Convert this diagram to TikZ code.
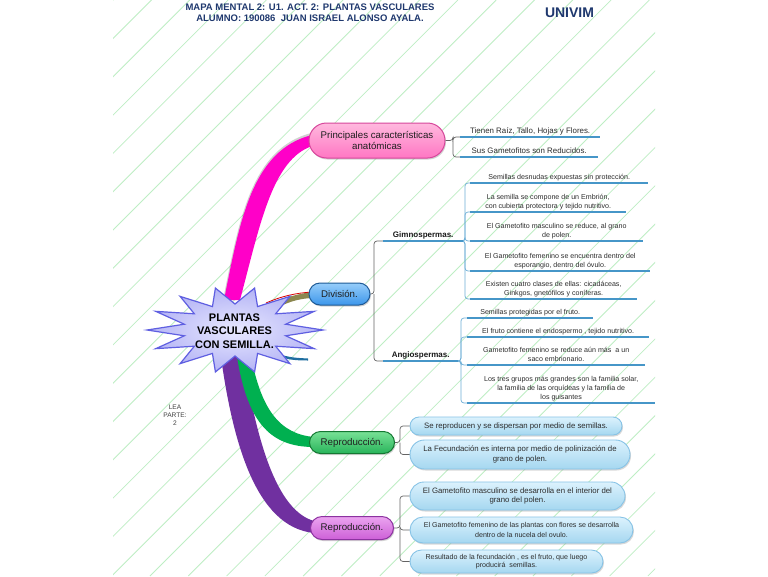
\documentclass[tikz,border=0pt]{standalone}
\usepackage{fontspec}
\setmainfont{Liberation Sans}
\usetikzlibrary{shapes.misc,shadows,calc}
\definecolor{navy}{RGB}{31,56,110}
\definecolor{bgl}{RGB}{190,238,196}
\definecolor{ulc}{RGB}{70,150,200}
\definecolor{brkc}{RGB}{100,100,100}
\definecolor{brkb}{RGB}{110,175,215}
\definecolor{txt}{RGB}{45,45,45}
\definecolor{pinkL}{RGB}{255,185,222}
\definecolor{pinkD}{RGB}{255,118,195}
\definecolor{pinkB}{RGB}{215,70,155}
\definecolor{blueL}{RGB}{150,205,250}
\definecolor{blueD}{RGB}{60,150,235}
\definecolor{blueB}{RGB}{30,90,150}
\definecolor{greenL}{RGB}{120,225,150}
\definecolor{greenD}{RGB}{40,180,90}
\definecolor{greenB}{RGB}{20,120,50}
\definecolor{purL}{RGB}{235,165,240}
\definecolor{purD}{RGB}{205,95,215}
\definecolor{purB}{RGB}{140,50,160}
\definecolor{lbL}{RGB}{220,242,253}
\definecolor{lbD}{RGB}{165,215,240}
\definecolor{lbB}{RGB}{135,195,230}
\definecolor{pinkbr}{RGB}{255,0,200}
\definecolor{greenbr}{RGB}{0,176,80}
\definecolor{purbr}{RGB}{112,48,160}
\definecolor{olivebr}{RGB}{140,135,80}
\definecolor{tealbr}{RGB}{30,110,160}
\definecolor{starL}{RGB}{232,232,255}
\definecolor{starD}{RGB}{180,180,245}
\definecolor{starB}{RGB}{95,95,225}
\tikzset{
  mainpill/.style={rounded rectangle, draw, line width=1pt, inner sep=0pt, align=center,
    font=\fontsize{9.7}{11}\selectfont, text=black!88,
    drop shadow={shadow xshift=1pt, shadow yshift=-1.5pt, opacity=0.35}},
  pinkpill/.style={top color=pinkL, bottom color=pinkD, draw=pinkB},
  bluepill/.style={top color=blueL, bottom color=blueD, draw=blueB},
  greenpill/.style={top color=greenL, bottom color=greenD, draw=greenB},
  purpill/.style={top color=purL, bottom color=purD, draw=purB},
  lbpill/.style={rounded rectangle, draw=lbB, line width=0.9pt, top color=lbL, bottom color=lbD,
    inner sep=0pt, align=center, text=txt,
    drop shadow={shadow xshift=1pt, shadow yshift=-1.5pt, opacity=0.3}},
  item/.style={align=center, text=txt, inner xsep=0pt, inner ysep=2pt, text depth=1.5pt,
    anchor=south west, font=\fontsize{7.1}{8.8}\selectfont},
  bigitem/.style={item, font=\fontsize{7.9}{9.5}\selectfont},
  subhead/.style={item, font=\bfseries\fontsize{8}{9.5}\selectfont, text=black!90},
  uline/.style={draw=ulc, line width=1.6pt},
  brkline/.style={draw=brkc, line width=0.7pt, rounded corners=3pt},
  brkblue/.style={draw=brkb, line width=0.7pt, rounded corners=3pt},
  titletext/.style={font=\bfseries\fontsize{9.5}{11}\selectfont, text=navy, anchor=base},
}
\begin{document}
\begin{tikzpicture}[x=1pt,y=-1pt]
\useasboundingbox (0,0) rectangle (768,576);
\fill[white] (0,0) rectangle (768,576);
% background diagonal lines
\begin{scope}
  \clip (113,0) rectangle (655,576);
  \foreach \k in {-7,...,24} {
    \draw[bgl, line width=0.8pt] ({343+38.3*\k},0) -- ++(-576,576);
  }
\end{scope}

% titles
\node[titletext] (t1) at (310,10.7) {MAPA MENTAL 2: U1. ACT. 2: PLANTAS VASCULARES};
\node[titletext] (t2) at (310,21.7) {ALUMNO: 190086~~JUAN ISRAEL ALONSO AYALA.};
\node[font=\bfseries\fontsize{14}{16}\selectfont, text=navy, anchor=base] (univ) at (569.5,17) {UNIVIM};

% branches
\fill[black, opacity=0.18] (223,300) .. controls (239,220) and (251,149) .. (311,133) -- (311,140) .. controls (272,155) and (259,225) .. (236,300) -- cycle;
\fill[pinkbr] (224,300) .. controls (240,220) and (252,150) .. (312,135) -- (312,146) .. controls (272,160) and (260,225) .. (240,300) -- cycle;
\fill[olivebr] (255,312) .. controls (275,301) and (290,295) .. (312,292) -- (312,298) .. controls (292,299) and (278,306) .. (262,318) -- cycle;
\draw[red!85!black, line width=0.8pt] (266,303) .. controls (282,296) and (296,293) .. (312,292);
\fill[tealbr] (282,355) .. controls (292,358) and (300,358) .. (308,358.5) -- (308,360.5) .. controls (298,360.5) and (290,360) .. (282,357.5) -- cycle;
\fill[purbr] (220,350) .. controls (232,440) and (255,527) .. (314,533) -- (314,521) .. controls (276,510) and (256,440) .. (242,350) -- cycle;
\fill[greenbr] (236,350) .. controls (246,420) and (268,447) .. (314,447) -- (314,437) .. controls (280,434) and (260,410) .. (250,350) -- cycle;

% central star
\shadedraw[inner color=starL, outer color=starD, draw=starB, line width=1.2pt, line join=miter]
  plot[samples at={0,...,27}, variable=\t]
  ({235+ifthenelse(mod(\t,2)==0,88,52)*cos(\t*360/28)}, {330+ifthenelse(mod(\t,2)==0,43,26)*sin(\t*360/28)}) -- cycle;
\node[align=center, font=\bfseries\fontsize{11}{13.3}\selectfont, text=black] (center) at (234.5,331) {PLANTAS\\VASCULARES\\CON SEMILLA.};

\node[align=center, font=\fontsize{6.6}{8}\selectfont, text=black!75] (lea) at (175,415) {LEA\\PARTE:\\2};

% main nodes
\node[mainpill, pinkpill, minimum width=136, minimum height=35] (princ) at (377,140.5) {Principales características\\anatómicas};
\node[mainpill, bluepill, minimum width=61, minimum height=22] (div) at (339.5,294) {División.};
\node[mainpill, greenpill, minimum width=85, minimum height=22] (rep1) at (352,442.5) {Reproducción.};
\node[mainpill, purpill, minimum width=83, minimum height=23] (rep2) at (352,528) {Reproducción.};

% Principales children
\node[bigitem, minimum width=140] (i1) at (460,137) {Tienen Raíz, Tallo, Hojas y Flores.};
\node[bigitem, minimum width=138] (i2) at (460,157) {Sus Gametofitos son Reducidos.};
\coordinate (pbx) at (453,0);
\draw[brkline] (princ.east) -- (princ.east -| pbx) |- (i1.south west);
\draw[brkline] (princ.east -| pbx) |- (i2.south west);

% Division children
\node[subhead, minimum width=80] (gim) at (383,241) {Gimnospermas.};
\node[subhead, minimum width=75] (ang) at (383,361) {Angiospermas.};
\coordinate (dbx) at (374,0);
\draw[brkline] (div.east) -- (div.east -| dbx) |- (gim.south west);
\draw[brkline] (div.east -| dbx) |- (ang.south west);

% Gimnospermas children
\node[item, minimum width=178] (g1) at (470,183) {Semillas desnudas expuestas sin protección.};
\node[item, minimum width=156] (g2) at (470,212) {La semilla se compone de un Embrión,\\con cubierta protectora y tejido nutritivo.};
\node[item, minimum width=173] (g3) at (470,241) {El Gametofito masculino se reduce, al grano\\de polen.};
\node[item, minimum width=180] (g4) at (470,271) {El Gametofito femenino se encuentra dentro del\\esporangio, dentro del óvulo.};
\node[item, minimum width=167] (g5) at (470,299) {Existen cuatro clases de ellas: cicadáceas,\\Ginkgos, gnetófilos y coníferas.};
\coordinate (gbx) at (465,0);
\foreach \n in {g1,g2,g3,g4,g5}
  \draw[brkblue] (gim.south east) -- (gim.south east -| gbx) |- (\n.south west);

% Angiospermas children
\node[item, minimum width=126] (a1) at (467,318) {Semillas protegidas por el fruto.};
\node[item, minimum width=182] (a2) at (467,337) {El fruto contiene el endospermo , tejido nutritivo.};
\node[item, minimum width=178] (a3) at (467,365) {Gametofito femenino se reduce aún más~~a un\\saco embrionario.};
\node[item, minimum width=188] (a4) at (467,403) {Los tres grupos más grandes son la familia solar,\\la familia de las orquídeas y la familia de\\los guisantes};
\coordinate (abx) at (461,0);
\foreach \n in {a1,a2,a3,a4}
  \draw[brkblue] (ang.south east) -- (ang.south east -| abx) |- (\n.south west);

% underlines
\foreach \n in {i1,i2,gim,ang,g1,g2,g3,g4,g5,a1,a2,a3,a4}
  \draw[uline] (\n.south west) -- (\n.south east);

% Reproduccion (green) children
\node[lbpill, font=\fontsize{7.8}{9.5}\selectfont, minimum width=212, minimum height=18] (s1) at (516,426) {Se reproducen y se dispersan por medio de semillas.};
\node[lbpill, font=\fontsize{7.8}{9.5}\selectfont, minimum width=220, minimum height=29] (s2) at (520,454.5) {La Fecundación es interna por medio de polinización de\\grano de polen.};
\coordinate (rbx) at (400,0);
\draw[brkline] (rep1.east) -- (rep1.east -| rbx) |- (s1.west);
\draw[brkline] (rep1.east -| rbx) |- (s2.west);

% Reproduccion (purple) children
\node[lbpill, font=\fontsize{7.8}{9.8}\selectfont, minimum width=215, minimum height=28] (q1) at (517.5,496) {El Gametofito masculino se desarrolla en el interior del\\grano del polen.};
\node[lbpill, font=\fontsize{7.1}{9.5}\selectfont, minimum width=223, minimum height=26] (q2) at (521.5,530) {El Gametofito femenino de las plantas con flores se desarrolla\\dentro de la nucela del ovulo.};
\node[lbpill, font=\fontsize{7.1}{8.5}\selectfont, minimum width=193, minimum height=23] (q3) at (506.5,561.5) {Resultado de la fecundación , es el fruto, que luego\\producirá~~semillas.};
\draw[brkline] (rep2.east) -- (rep2.east -| rbx) |- (q1.west);
\draw[brkline] (rep2.east -| rbx) |- (q2.west);
\draw[brkline] (rep2.east -| rbx) |- (q3.west);
\end{tikzpicture}
\end{document}
